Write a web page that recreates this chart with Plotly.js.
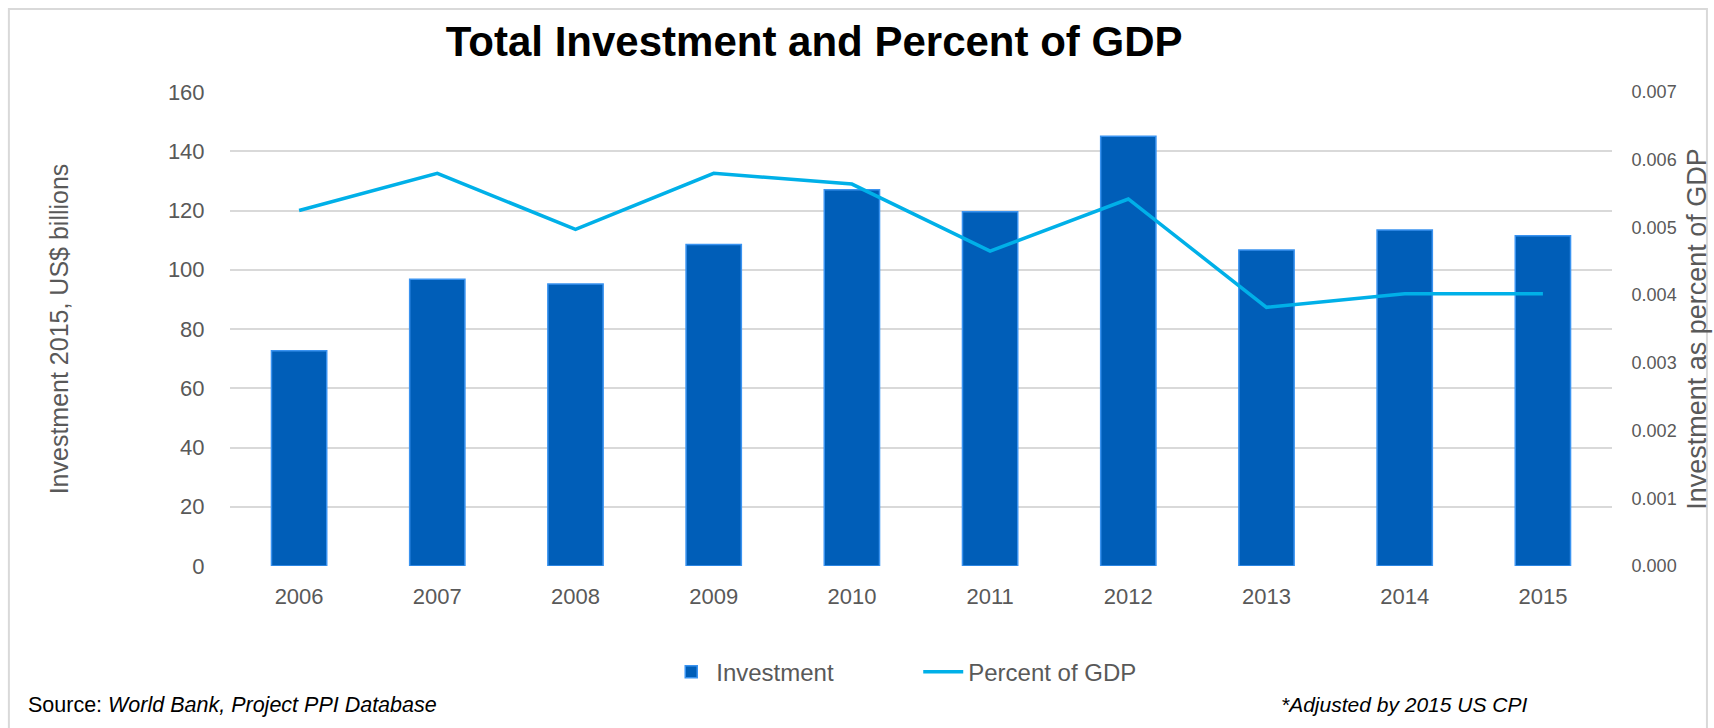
<!DOCTYPE html>
<html>
<head>
<meta charset="utf-8">
<script src="https://cdn.plot.ly/plotly-3.0.1.min.js"></script>
<style>html,body{margin:0;padding:0;background:#fff;}</style>
</head>
<body>
<div id="chart" style="width:1714px;height:728px;"></div>
<script>
const years = ["2006","2007","2008","2009","2010","2011","2012","2013","2014","2015"];
const investment = [72.7, 96.8, 95.2, 108.5, 127.0, 119.6, 145.1, 106.7, 113.4, 111.5];
const percentGDP = [0.00525, 0.00580, 0.00497, 0.00580, 0.00564, 0.00465, 0.00542, 0.00382, 0.00402, 0.00402];
const leftTicks = [0, 20, 40, 60, 80, 100, 120, 140, 160];
const rightTicks = [0, 0.001, 0.002, 0.003, 0.004, 0.005, 0.006, 0.007];

const gray = "#595959";
const font = "Liberation Sans, Arial, sans-serif";

const traces = [
  {
    type: "bar", name: "Investment", x: years, y: investment,
    marker: {color: "#005EB8", line: {color: "#3A93F0", width: 1.5}},
    width: 0.4, yaxis: "y", hoverinfo: "x+y"
  },
  {
    type: "scatter", mode: "lines", name: "Percent of GDP", x: years, y: percentGDP,
    line: {color: "#00B0E8", width: 3.5}, yaxis: "y2"
  }
];

const layout = {
  width: 1714, height: 728,
  margin: {l: 230, r: 102, t: 92, b: 162},
  paper_bgcolor: "#fff", plot_bgcolor: "#fff",
  font: {family: font, color: gray, size: 22},
  title: {text: "<b>Total Investment and Percent of GDP</b>", font: {family: font, size: 42, color: "#000"},
          x: 0.475, xref: "container", y: 0.943, yref: "container", xanchor: "center", yanchor: "middle"},
  bargap: 0.6,
  xaxis: {
    type: "category", tickfont: {size: 22, color: gray}, showgrid: false, showline: false,
    ticks: "outside", ticklen: 11, tickcolor: "rgba(0,0,0,0)", zeroline: false, fixedrange: true
  },
  yaxis: {
    range: [0, 160], tickvals: leftTicks, ticktext: leftTicks.map(String),
    showgrid: true, gridcolor: "#D9D9D9", gridwidth: 1.5, zeroline: false, showline: false,
    ticks: "outside", ticklen: 20, tickcolor: "rgba(0,0,0,0)",
    tickfont: {size: 22, color: gray}, automargin: false,
    title: {text: "Investment 2015, US$ billions", font: {size: 25, color: gray}, standoff: 92}
  },
  yaxis2: {
    range: [0, 0.007], tickvals: rightTicks, ticktext: rightTicks.map(v => v.toFixed(3)),
    overlaying: "y", side: "right", showgrid: false, zeroline: false, showline: false,
    ticks: "outside", ticklen: 15, tickcolor: "rgba(0,0,0,0)",
    tickfont: {size: 18, color: gray}, automargin: false,
    title: {text: "Investment as percent of GDP", font: {size: 27, color: gray}, standoff: 11}
  },
  showlegend: true,
  legend: {
    orientation: "h", x: 0.498, xanchor: "center", y: -0.224, yanchor: "middle",
    font: {size: 24, color: gray}, traceorder: "normal", itemwidth: 40,
    entrywidth: 197, entrywidthmode: "pixels", bgcolor: "rgba(0,0,0,0)"
  },
  shapes: [
    {type: "rect", xref: "paper", yref: "paper", x0: -0.160, x1: 1.0687, y0: -0.40, y1: 1.175,
     line: {color: "#D9D9D9", width: 2}, fillcolor: "rgba(0,0,0,0)", layer: "below"}
  ],
  annotations: [
    {xref: "paper", yref: "paper", x: -0.1475, y: -0.293, xanchor: "left", yanchor: "middle", showarrow: false,
     text: "Source: <i>World Bank, Project PPI Database</i>", font: {size: 21.5, color: "#000"}},
    {xref: "paper", yref: "paper", x: 0.759, y: -0.293, xanchor: "left", yanchor: "middle", showarrow: false,
     text: "<i>*Adjusted by 2015 US CPI</i>", font: {size: 21, color: "#000"}}
  ]
};

Plotly.newPlot("chart", traces, layout, {displayModeBar: false, responsive: false});
</script>
</body>
</html>
